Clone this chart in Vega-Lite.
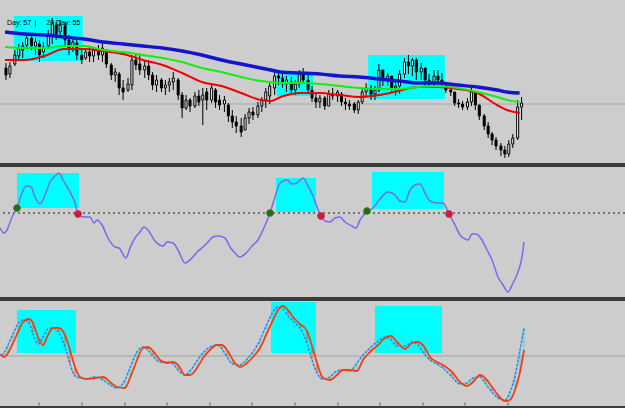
{
"$schema":"https://vega.github.io/schema/vega-lite/v6.json",
"padding":{"left":0,"top":0,"right":0,"bottom":3},
"background":"#3c3c3c",
"spacing":4,
"config":{"view":{"stroke":null,"fill":"#cdcdcd"}},
"datasets":{
"boxes1":[{"x1":9,"x2":79,"y1":16,"y2":61},{"x1":276,"x2":313,"y1":72,"y2":96},{"x1":369,"x2":447,"y1":55,"y2":99}],
"boxes2":[{"x1":17,"x2":79,"y1":173,"y2":208},{"x1":276,"x2":316,"y1":178,"y2":212},{"x1":372,"x2":444,"y1":172,"y2":209}],
"boxes3":[{"x1":17,"x2":76,"y1":310,"y2":353},{"x1":271,"x2":316,"y1":302,"y2":353},{"x1":375,"x2":442,"y1":306,"y2":353}],
"labels":[{"t":2,"v":23,"s":"Day: 57"},{"t":30,"v":23,"s":"|"},{"t":42,"v":23,"s":"20 Day: 55"}],
"ticks":[{"t":39},{"t":82},{"t":125},{"t":167},{"t":210},{"t":252},{"t":295},{"t":338},{"t":380},{"t":423},{"t":465},{"t":508}],
"candles":[
{"t":1,"o":68,"h":63,"l":80,"c":75},{"t":5,"o":74,"h":62,"l":78,"c":66},{"t":10,"o":64,"h":50,"l":66,"c":55},{"t":14,"o":56,"h":44,"l":60,"c":48},{"t":18,"o":50,"h":42,"l":58,"c":46},{"t":22,"o":45,"h":33,"l":48,"c":38},{"t":27,"o":38,"h":36,"l":50,"c":46},{"t":31,"o":46,"h":38,"l":55,"c":42},{"t":35,"o":44,"h":40,"l":62,"c":55},{"t":39,"o":52,"h":42,"l":58,"c":47},
{"t":44,"o":46,"h":30,"l":48,"c":34},{"t":48,"o":36,"h":18,"l":44,"c":24},{"t":52,"o":25,"h":22,"l":40,"c":34},{"t":56,"o":32,"h":20,"l":38,"c":25},{"t":61,"o":26,"h":22,"l":45,"c":40},{"t":65,"o":40,"h":35,"l":55,"c":48},{"t":69,"o":46,"h":38,"l":52,"c":42},{"t":73,"o":43,"h":40,"l":60,"c":55},{"t":78,"o":55,"h":50,"l":64,"c":60},{"t":82,"o":58,"h":48,"l":60,"c":52},
{"t":86,"o":52,"h":47,"l":62,"c":56},{"t":90,"o":56,"h":48,"l":62,"c":50},{"t":95,"o":50,"h":45,"l":60,"c":55},{"t":99,"o":55,"h":43,"l":62,"c":48},{"t":103,"o":50,"h":50,"l":68,"c":64},{"t":108,"o":65,"h":63,"l":80,"c":75},{"t":112,"o":75,"h":68,"l":82,"c":72},{"t":116,"o":74,"h":72,"l":95,"c":88},{"t":120,"o":88,"h":80,"l":100,"c":92},{"t":125,"o":90,"h":78,"l":92,"c":84},
{"t":129,"o":85,"h":55,"l":90,"c":60},{"t":133,"o":60,"h":53,"l":70,"c":65},{"t":137,"o":64,"h":55,"l":75,"c":70},{"t":142,"o":70,"h":60,"l":78,"c":66},{"t":146,"o":66,"h":60,"l":80,"c":75},{"t":150,"o":75,"h":72,"l":90,"c":85},{"t":154,"o":85,"h":75,"l":92,"c":80},{"t":159,"o":80,"h":78,"l":92,"c":88},{"t":163,"o":88,"h":80,"l":95,"c":85},{"t":167,"o":85,"h":78,"l":92,"c":82},
{"t":171,"o":82,"h":72,"l":90,"c":78},{"t":176,"o":80,"h":78,"l":100,"c":95},{"t":180,"o":95,"h":92,"l":118,"c":108},{"t":184,"o":108,"h":95,"l":110,"c":100},{"t":188,"o":100,"h":98,"l":112,"c":106},{"t":193,"o":106,"h":92,"l":108,"c":96},{"t":197,"o":96,"h":90,"l":106,"c":102},{"t":201,"o":100,"h":88,"l":125,"c":95},{"t":205,"o":92,"h":88,"l":110,"c":100},{"t":210,"o":100,"h":83,"l":103,"c":88},
{"t":214,"o":90,"h":88,"l":108,"c":102},{"t":218,"o":100,"h":95,"l":110,"c":105},{"t":223,"o":104,"h":96,"l":112,"c":100},{"t":227,"o":105,"h":103,"l":122,"c":116},{"t":231,"o":116,"h":110,"l":128,"c":122},{"t":235,"o":122,"h":116,"l":133,"c":126},{"t":240,"o":126,"h":118,"l":137,"c":132},{"t":244,"o":130,"h":114,"l":130,"c":118},{"t":248,"o":118,"h":108,"l":124,"c":112},{"t":252,"o":112,"h":107,"l":120,"c":115},
{"t":257,"o":115,"h":102,"l":118,"c":106},{"t":261,"o":106,"h":97,"l":112,"c":100},{"t":265,"o":100,"h":88,"l":108,"c":92},{"t":269,"o":96,"h":82,"l":104,"c":86},{"t":274,"o":88,"h":72,"l":95,"c":76},{"t":278,"o":76,"h":70,"l":85,"c":78},{"t":282,"o":78,"h":72,"l":88,"c":84},{"t":286,"o":84,"h":76,"l":92,"c":80},{"t":291,"o":82,"h":77,"l":94,"c":90},{"t":295,"o":90,"h":80,"l":95,"c":84},
{"t":299,"o":84,"h":70,"l":88,"c":74},{"t":303,"o":74,"h":68,"l":84,"c":80},{"t":308,"o":80,"h":73,"l":94,"c":90},{"t":312,"o":90,"h":86,"l":102,"c":98},{"t":316,"o":98,"h":92,"l":108,"c":102},{"t":320,"o":102,"h":95,"l":108,"c":98},{"t":325,"o":98,"h":96,"l":110,"c":106},{"t":329,"o":106,"h":90,"l":106,"c":94},{"t":333,"o":94,"h":88,"l":100,"c":96},{"t":338,"o":96,"h":90,"l":102,"c":92},
{"t":342,"o":94,"h":92,"l":106,"c":102},{"t":346,"o":102,"h":98,"l":110,"c":104},{"t":350,"o":104,"h":100,"l":110,"c":106},{"t":355,"o":104,"h":102,"l":113,"c":110},{"t":359,"o":110,"h":100,"l":114,"c":102},{"t":363,"o":102,"h":88,"l":104,"c":92},{"t":367,"o":92,"h":83,"l":98,"c":88},{"t":372,"o":88,"h":85,"l":100,"c":94},{"t":376,"o":94,"h":86,"l":100,"c":90},{"t":380,"o":90,"h":64,"l":92,"c":70},
{"t":384,"o":70,"h":70,"l":86,"c":80},{"t":389,"o":80,"h":73,"l":86,"c":76},{"t":393,"o":76,"h":76,"l":92,"c":88},{"t":397,"o":88,"h":82,"l":96,"c":86},{"t":401,"o":86,"h":70,"l":94,"c":74},{"t":406,"o":74,"h":58,"l":78,"c":62},{"t":410,"o":62,"h":55,"l":74,"c":66},{"t":414,"o":66,"h":58,"l":76,"c":60},{"t":418,"o":60,"h":58,"l":80,"c":72},{"t":423,"o":72,"h":63,"l":80,"c":68},
{"t":427,"o":68,"h":68,"l":86,"c":80},{"t":431,"o":80,"h":74,"l":88,"c":84},{"t":436,"o":84,"h":70,"l":86,"c":76},{"t":440,"o":76,"h":70,"l":84,"c":80},{"t":444,"o":80,"h":73,"l":88,"c":84},{"t":448,"o":84,"h":82,"l":93,"c":90},{"t":453,"o":90,"h":86,"l":96,"c":92},{"t":457,"o":92,"h":92,"l":106,"c":103},{"t":461,"o":103,"h":99,"l":108,"c":104},{"t":465,"o":104,"h":101,"l":110,"c":107},
{"t":470,"o":107,"h":98,"l":110,"c":102},{"t":474,"o":102,"h":88,"l":106,"c":92},{"t":478,"o":92,"h":92,"l":110,"c":105},{"t":482,"o":105,"h":105,"l":120,"c":116},{"t":487,"o":116,"h":114,"l":130,"c":126},{"t":491,"o":126,"h":122,"l":138,"c":134},{"t":495,"o":134,"h":132,"l":145,"c":140},{"t":499,"o":140,"h":137,"l":150,"c":146},{"t":504,"o":146,"h":143,"l":156,"c":150},{"t":508,"o":150,"h":146,"l":158,"c":154},
{"t":512,"o":154,"h":140,"l":157,"c":144},{"t":516,"o":144,"h":134,"l":148,"c":138},{"t":521,"o":138,"h":100,"l":140,"c":107},{"t":525,"o":107,"h":97,"l":120,"c":103}],
"ma":[
{"t":0,"b":32,"g":47,"r":60},{"t":20,"b":34,"g":48,"r":60},{"t":40,"b":35,"g":48,"r":56},{"t":60,"b":37,"g":46,"r":49},{"t":80,"b":39,"g":46,"r":49},{"t":100,"b":42,"g":50,"r":51},{"t":120,"b":44,"g":52,"r":54},{"t":140,"b":46,"g":55,"r":60},{"t":160,"b":48,"g":58,"r":65},{"t":180,"b":51,"g":62,"r":73},{"t":200,"b":55,"g":68,"r":82},{"t":220,"b":60,"g":72,"r":86},{"t":240,"b":64,"g":77,"r":93},{"t":260,"b":68,"g":81,"r":100},{"t":270,"b":70,"g":82,"r":101},{"t":280,"b":72,"g":83,"r":97},{"t":300,"b":73,"g":83,"r":93},{"t":320,"b":74,"g":84,"r":93},{"t":340,"b":76,"g":86,"r":95},{"t":360,"b":77,"g":88,"r":97},{"t":380,"b":79,"g":89,"r":95},{"t":400,"b":81,"g":89,"r":91},{"t":420,"b":83,"g":87,"r":87},{"t":440,"b":83,"g":86,"r":87},{"t":460,"b":85,"g":88,"r":89},{"t":480,"b":87,"g":92,"r":93},{"t":500,"b":90,"g":97,"r":105},{"t":510,"b":92,"g":100,"r":110},{"t":523,"b":93,"g":102,"r":113}],
"osc":[
{"t":0,"v":228},{"t":4,"v":233},{"t":7,"v":230},{"t":12,"v":217},{"t":17,"v":208},{"t":22,"v":193},{"t":26,"v":186},{"t":31,"v":187},{"t":35,"v":197},{"t":40,"v":204},{"t":45,"v":195},{"t":50,"v":182},{"t":55,"v":176},{"t":59,"v":173},{"t":63,"v":180},{"t":70,"v":192},{"t":75,"v":203},{"t":78,"v":214},{"t":83,"v":217},{"t":90,"v":217},{"t":94,"v":223},{"t":97,"v":220},{"t":102,"v":225},{"t":108,"v":238},{"t":115,"v":247},{"t":119,"v":248},{"t":126,"v":258},{"t":130,"v":248},{"t":135,"v":238},{"t":140,"v":232},{"t":144,"v":227},{"t":148,"v":230},{"t":155,"v":241},{"t":163,"v":246},{"t":167,"v":242},{"t":173,"v":243},{"t":178,"v":250},{"t":185,"v":263},{"t":192,"v":258},{"t":198,"v":251},{"t":203,"v":247},{"t":208,"v":242},{"t":213,"v":237},{"t":218,"v":236},{"t":225,"v":238},{"t":230,"v":247},{"t":235,"v":253},{"t":240,"v":257},{"t":247,"v":252},{"t":253,"v":245},{"t":258,"v":240},{"t":263,"v":230},{"t":270,"v":213},{"t":275,"v":197},{"t":280,"v":183},{"t":287,"v":180},{"t":292,"v":184},{"t":297,"v":183},{"t":303,"v":178},{"t":308,"v":186},{"t":313,"v":196},{"t":317,"v":207},{"t":321,"v":216},{"t":325,"v":221},{"t":330,"v":222},{"t":335,"v":218},{"t":340,"v":217},{"t":345,"v":222},{"t":352,"v":226},{"t":356,"v":228},{"t":360,"v":220},{"t":367,"v":212},{"t":373,"v":208},{"t":380,"v":199},{"t":388,"v":192},{"t":395,"v":195},{"t":400,"v":201},{"t":405,"v":202},{"t":410,"v":190},{"t":415,"v":185},{"t":420,"v":184},{"t":425,"v":193},{"t":430,"v":201},{"t":437,"v":203},{"t":443,"v":203},{"t":449,"v":214},{"t":455,"v":225},{"t":460,"v":235},{"t":465,"v":239},{"t":468,"v":240},{"t":472,"v":234},{"t":476,"v":234},{"t":482,"v":240},{"t":487,"v":250},{"t":492,"v":260},{"t":498,"v":277},{"t":503,"v":285},{"t":508,"v":292},{"t":513,"v":283},{"t":518,"v":272},{"t":522,"v":257},{"t":524,"v":242}],
"signals":[{"t":17,"v":208,"k":"up"},{"t":270,"v":213,"k":"up"},{"t":367,"v":211,"k":"up"},{"t":78,"v":214,"k":"down"},{"t":321,"v":216,"k":"down"},{"t":449,"v":214,"k":"down"}],
"stoch":[
{"t":0,"r":354,"d":356},{"t":4,"r":357,"d":353},{"t":8,"r":353,"d":345},{"t":13,"r":343,"d":334},{"t":18,"r":332,"d":324},{"t":23,"r":322,"d":320},{"t":29,"r":319,"d":323},{"t":33,"r":323,"d":334},{"t":38,"r":337,"d":344},{"t":43,"r":345,"d":337},{"t":48,"r":335,"d":329},{"t":53,"r":328,"d":328},{"t":59,"r":328,"d":333},{"t":65,"r":335,"d":347},{"t":70,"r":350,"d":364},{"t":75,"r":367,"d":376},{"t":80,"r":377,"d":378},{"t":87,"r":379,"d":379},{"t":95,"r":378,"d":377},{"t":103,"r":377,"d":380},{"t":110,"r":382,"d":385},{"t":117,"r":387,"d":388},{"t":125,"r":388,"d":380},{"t":130,"r":378,"d":368},{"t":137,"r":360,"d":352},{"t":143,"r":348,"d":347},{"t":148,"r":347,"d":350},{"t":153,"r":351,"d":356},{"t":160,"r":360,"d":362},{"t":167,"r":363,"d":362},{"t":173,"r":362,"d":364},{"t":178,"r":365,"d":370},{"t":185,"r":375,"d":375},{"t":190,"r":375,"d":371},{"t":197,"r":368,"d":361},{"t":203,"r":358,"d":353},{"t":210,"r":350,"d":347},{"t":217,"r":345,"d":345},{"t":222,"r":345,"d":349},{"t":227,"r":350,"d":357},{"t":233,"r":360,"d":364},{"t":240,"r":367,"d":365},{"t":247,"r":363,"d":359},{"t":253,"r":357,"d":352},{"t":260,"r":348,"d":340},{"t":267,"r":333,"d":324},{"t":273,"r":320,"d":312},{"t":278,"r":310,"d":307},{"t":283,"r":306,"d":309},{"t":288,"r":310,"d":316},{"t":293,"r":317,"d":321},{"t":300,"r":324,"d":328},{"t":307,"r":331,"d":343},{"t":312,"r":346,"d":360},{"t":317,"r":363,"d":373},{"t":323,"r":378,"d":379},{"t":330,"r":380,"d":377},{"t":337,"r":375,"d":371},{"t":343,"r":370,"d":370},{"t":350,"r":370,"d":371},{"t":357,"r":371,"d":363},{"t":363,"r":360,"d":355},{"t":370,"r":352,"d":348},{"t":378,"r":345,"d":341},{"t":385,"r":338,"d":337},{"t":391,"r":336,"d":340},{"t":397,"r":342,"d":346},{"t":405,"r":349,"d":346},{"t":412,"r":343,"d":342},{"t":418,"r":342,"d":345},{"t":425,"r":348,"d":355},{"t":430,"r":357,"d":360},{"t":437,"r":362,"d":364},{"t":443,"r":365,"d":368},{"t":452,"r":372,"d":377},{"t":460,"r":382,"d":384},{"t":467,"r":386,"d":383},{"t":473,"r":382,"d":378},{"t":480,"r":375,"d":377},{"t":485,"r":378,"d":383},{"t":492,"r":387,"d":392},{"t":498,"r":395,"d":398},{"t":505,"r":401,"d":400},{"t":510,"r":400,"d":392},{"t":515,"r":390,"d":376},{"t":520,"r":372,"d":350},{"t":524,"r":350,"d":328}],
"lvl1":[{"v":104}],"lvl2":[{"v":213}],"lvl3":[{"v":356}]
},
"vconcat":[
{"width":625,"height":163,
"layer":[
{"data":{"name":"boxes1"},"mark":{"type":"rect","color":"#00ffff","clip":true},"encoding":{"x":{"field":"x1","type":"quantitative","scale":{"domain":[0,625],"nice":false,"zero":false},"axis":null},"x2":{"field":"x2"},"y":{"field":"y1","type":"quantitative","scale":{"domain":[0,163],"reverse":true,"nice":false,"zero":false},"axis":null},"y2":{"field":"y2"}}},
{"data":{"name":"lvl1"},"mark":{"type":"rule","color":"#a9a9a9","strokeWidth":1,"clip":true},"encoding":{"y":{"field":"v","type":"quantitative","scale":{"domain":[0,163],"reverse":true,"nice":false,"zero":false},"axis":null}}},
{"data":{"name":"labels"},"mark":{"type":"text","align":"left","baseline":"middle","font":"Liberation Sans","fontSize":7,"color":"#000000","clip":true},"encoding":{"x":{"field":"t","type":"quantitative","scale":{"domain":[0,625],"nice":false,"zero":false},"axis":null},"y":{"field":"v","type":"quantitative","scale":{"domain":[0,163],"reverse":true,"nice":false,"zero":false},"axis":null},"text":{"field":"s"}}},
{"data":{"name":"candles"},"mark":{"type":"rule","color":"#000000","strokeWidth":1,"clip":true},"encoding":{"x":{"field":"t","type":"quantitative","scale":{"domain":[0,625],"nice":false,"zero":false},"axis":null},"y":{"field":"h","type":"quantitative","scale":{"domain":[0,163],"reverse":true,"nice":false,"zero":false},"axis":null},"y2":{"field":"l"}}},
{"data":{"name":"candles"},"mark":{"type":"bar","size":2,"stroke":"#000000","strokeWidth":1,"clip":true},"encoding":{"x":{"field":"t","type":"quantitative","scale":{"domain":[0,625],"nice":false,"zero":false},"axis":null},"y":{"field":"o","type":"quantitative","scale":{"domain":[0,163],"reverse":true,"nice":false,"zero":false},"axis":null},"y2":{"field":"c"},"fill":{"condition":{"test":"datum.c < datum.o","value":"#ffffff"},"value":"#000000"}}},
{"data":{"name":"ma"},"mark":{"type":"line","color":"#ee0000","strokeWidth":2,"interpolate":"monotone","clip":true},"encoding":{"x":{"field":"t","type":"quantitative","scale":{"domain":[0,625],"nice":false,"zero":false},"axis":null},"y":{"field":"r","type":"quantitative","scale":{"domain":[0,163],"reverse":true,"nice":false,"zero":false},"axis":null}}},
{"data":{"name":"ma"},"mark":{"type":"line","color":"#11ee11","strokeWidth":2,"interpolate":"monotone","clip":true},"encoding":{"x":{"field":"t","type":"quantitative","scale":{"domain":[0,625],"nice":false,"zero":false},"axis":null},"y":{"field":"g","type":"quantitative","scale":{"domain":[0,163],"reverse":true,"nice":false,"zero":false},"axis":null}}},
{"data":{"name":"ma"},"mark":{"type":"line","color":"#1414cc","strokeWidth":3.5,"interpolate":"monotone","clip":true},"encoding":{"x":{"field":"t","type":"quantitative","scale":{"domain":[0,625],"nice":false,"zero":false},"axis":null},"y":{"field":"b","type":"quantitative","scale":{"domain":[0,163],"reverse":true,"nice":false,"zero":false},"axis":null}}}
]},
{"width":625,"height":130,
"layer":[
{"data":{"name":"boxes2"},"mark":{"type":"rect","color":"#00ffff","clip":true},"encoding":{"x":{"field":"x1","type":"quantitative","scale":{"domain":[0,625],"nice":false,"zero":false},"axis":null},"x2":{"field":"x2"},"y":{"field":"y1","type":"quantitative","scale":{"domain":[167,297],"reverse":true,"nice":false,"zero":false},"axis":null},"y2":{"field":"y2"}}},
{"data":{"name":"lvl2"},"mark":{"type":"rule","color":"#555555","strokeWidth":1.5,"strokeDash":[2,3],"clip":true},"encoding":{"y":{"field":"v","type":"quantitative","scale":{"domain":[167,297],"reverse":true,"nice":false,"zero":false},"axis":null}}},
{"data":{"name":"osc"},"mark":{"type":"line","color":"#7b68ee","strokeWidth":1.5,"interpolate":"monotone","clip":true},"encoding":{"x":{"field":"t","type":"quantitative","scale":{"domain":[0,625],"nice":false,"zero":false},"axis":null},"y":{"field":"v","type":"quantitative","scale":{"domain":[167,297],"reverse":true,"nice":false,"zero":false},"axis":null}}},
{"data":{"name":"signals"},"mark":{"type":"circle","size":45,"opacity":1,"strokeWidth":1,"clip":true},"encoding":{"x":{"field":"t","type":"quantitative","scale":{"domain":[0,625],"nice":false,"zero":false},"axis":null},"y":{"field":"v","type":"quantitative","scale":{"domain":[167,297],"reverse":true,"nice":false,"zero":false},"axis":null},"fill":{"field":"k","type":"nominal","scale":{"domain":["up","down"],"range":["#0a7a0a","#e0103c"]},"legend":null},"stroke":{"field":"k","type":"nominal","scale":{"domain":["up","down"],"range":["#556b2f","#b03050"]},"legend":null}}}
]},
{"width":625,"height":105,
"layer":[
{"data":{"name":"boxes3"},"mark":{"type":"rect","color":"#00ffff","clip":true},"encoding":{"x":{"field":"x1","type":"quantitative","scale":{"domain":[0,625],"nice":false,"zero":false},"axis":null},"x2":{"field":"x2"},"y":{"field":"y1","type":"quantitative","scale":{"domain":[301,406],"reverse":true,"nice":false,"zero":false},"axis":null},"y2":{"field":"y2"}}},
{"data":{"name":"lvl3"},"mark":{"type":"rule","color":"#a3a3a3","strokeWidth":1,"clip":true},"encoding":{"y":{"field":"v","type":"quantitative","scale":{"domain":[301,406],"reverse":true,"nice":false,"zero":false},"axis":null}}},
{"data":{"name":"stoch"},"mark":{"type":"rule","strokeWidth":1,"clip":true},"encoding":{"x":{"field":"t","type":"quantitative","scale":{"domain":[0,625],"nice":false,"zero":false},"axis":null},"y":{"field":"r","type":"quantitative","scale":{"domain":[301,406],"reverse":true,"nice":false,"zero":false},"axis":null},"y2":{"field":"d"},"color":{"condition":{"test":"datum.d > datum.r","value":"#ff5a00"},"value":"#55d0d0"}}},
{"data":{"name":"stoch"},"mark":{"type":"line","color":"#30e0e0","strokeWidth":1.5,"strokeDash":[2,2],"interpolate":"monotone","clip":true},"encoding":{"x":{"field":"t","type":"quantitative","scale":{"domain":[0,625],"nice":false,"zero":false},"axis":null},"y":{"field":"d","type":"quantitative","scale":{"domain":[301,406],"reverse":true,"nice":false,"zero":false},"axis":null}}},
{"data":{"name":"stoch"},"mark":{"type":"line","color":"#4a66f0","strokeWidth":1.5,"strokeDash":[2,2],"strokeDashOffset":2,"interpolate":"monotone","clip":true},"encoding":{"x":{"field":"t","type":"quantitative","scale":{"domain":[0,625],"nice":false,"zero":false},"axis":null},"y":{"field":"d","type":"quantitative","scale":{"domain":[301,406],"reverse":true,"nice":false,"zero":false},"axis":null}}},
{"data":{"name":"stoch"},"mark":{"type":"line","color":"#f04018","strokeWidth":1.8,"interpolate":"monotone","clip":true},"encoding":{"x":{"field":"t","type":"quantitative","scale":{"domain":[0,625],"nice":false,"zero":false},"axis":null},"y":{"field":"r","type":"quantitative","scale":{"domain":[301,406],"reverse":true,"nice":false,"zero":false},"axis":null}}},
{"data":{"name":"ticks"},"mark":{"type":"tick","orient":"vertical","color":"#333333","size":3,"thickness":1,"yOffset":-1,"clip":true},"encoding":{"x":{"field":"t","type":"quantitative","scale":{"domain":[0,625],"nice":false,"zero":false},"axis":null},"y":{"datum":405,"type":"quantitative","scale":{"domain":[301,406],"reverse":true,"nice":false,"zero":false},"axis":null}}}
]}
]
}
